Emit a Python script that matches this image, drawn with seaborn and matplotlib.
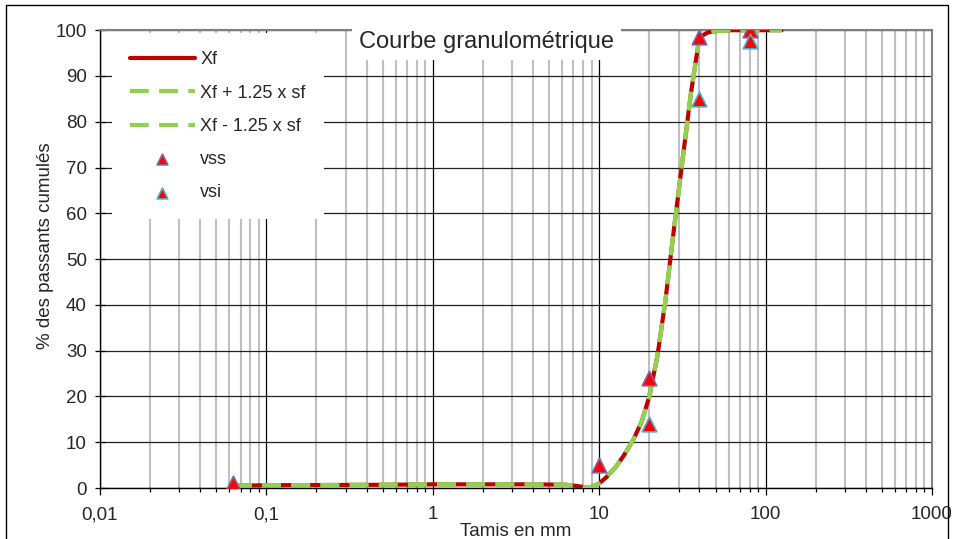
import numpy as np
import pandas as pd
import matplotlib.pyplot as plt
import seaborn as sns
from matplotlib.ticker import FixedLocator, LogLocator, NullFormatter
from matplotlib.patches import Rectangle

# courbe moyenne Xf
tamis = [0.063, 0.1, 0.5, 1, 2, 4, 6.3, 7.5, 8.7, 10, 11, 12.5, 14, 16, 18, 20,
         22.4, 25, 28, 31.5, 35.5, 40, 45, 50, 63, 80, 100, 125]
xf = [0.5, 0.6, 0.7, 0.8, 0.8, 0.8, 0.7, 0.4, 0.0, 1.0, 2.3, 4.5, 7.0, 10.5, 14.5, 20.0,
      29.0, 41.0, 56.0, 71.0, 86.0, 98.5, 99.5, 99.8, 100, 100, 100, 100]
xf_plus = xf
xf_moins = xf

# valeurs spécifiées
vss_x = [0.063, 10, 20, 40, 80]
vss_y = [1, 5, 24, 98.5, 100]
vsi_x = [20, 40, 80]
vsi_y = [14, 85, 97.7]

xticks = [0.01, 0.1, 1, 10, 100, 1000]
xlabels = ['0,01', '0,1', '1', '10', '100', '1000']
yticks = list(range(0, 101, 10))

sns.set_style('white')
plt.rcParams['font.family'] = ['Liberation Sans', 'DejaVu Sans']

fig = plt.figure(figsize=(9.54, 5.39), dpi=100)
ax = fig.add_axes([0.1048, 0.0946, 0.8722, 0.8494])

df = pd.DataFrame({'x': tamis, 'Xf': xf, 'p': xf_plus, 'm': xf_moins})
sns.lineplot(data=df, x='x', y='Xf', ax=ax, color='#C00000', lw=3, label='Xf', zorder=3)
sns.lineplot(data=df, x='x', y='p', ax=ax, color='#92D050', lw=3, dashes=False,
             label='Xf + 1.25 x sf', zorder=4)
sns.lineplot(data=df, x='x', y='m', ax=ax, color='#92D050', lw=3, dashes=False,
             label='Xf - 1.25 x sf', zorder=4)
for ln in ax.get_lines()[1:3]:
    ln.set_dashes((4.5, 2.5))

sns.scatterplot(x=vss_x, y=vss_y, ax=ax, marker='^', s=110, color='red',
                edgecolor='#8064A2', linewidth=1.2, label='vss', zorder=6)
sns.scatterplot(x=vsi_x, y=vsi_y, ax=ax, marker='^', s=110, color='red',
                edgecolor='#4BACC6', linewidth=1.2, label='vsi', zorder=6)

ax.set_xscale('log')
ax.set_xlim(0.01, 1000)
ax.set_ylim(0, 100)
ax.xaxis.set_major_locator(FixedLocator(xticks))
ax.set_xticklabels(xlabels)
ax.xaxis.set_minor_locator(LogLocator(base=10, subs=np.arange(2, 10)))
ax.xaxis.set_minor_formatter(NullFormatter())
ax.set_yticks(yticks)

ax.grid(which='minor', axis='x', color='#BFBFBF', lw=1.5, zorder=0)
ax.grid(which='major', axis='x', color='black', lw=0.9, zorder=0)
ax.grid(which='major', axis='y', color='#202020', lw=0.9, zorder=0)
ax.set_axisbelow(True)

ax.tick_params(axis='x', which='major', direction='out', length=5, width=0.9,
               color='black', labelsize=13.5, pad=8, bottom=True)
ax.tick_params(axis='x', which='minor', direction='out', length=3, width=0.9,
               color='black', bottom=True)
ax.tick_params(axis='y', which='major', direction='inout', length=7, width=0.9,
               color='black', labelsize=13.5, pad=6, left=True)

for s in ['left', 'bottom']:
    ax.spines[s].set_color('black')
    ax.spines[s].set_linewidth(1)
for s in ['top', 'right']:
    ax.spines[s].set_color('#808080')
    ax.spines[s].set_linewidth(1.5)

ax.set_xlabel('Tamis en mm', fontsize=13.5, labelpad=0)
ax.set_ylabel('% des passants cumulés', fontsize=13.5, labelpad=1)
ax.yaxis.label.set_y(0.53)

ax.text(0.465, 0.975, 'Courbe granulométrique', transform=ax.transAxes,
        ha='center', va='center', fontsize=17, zorder=10, clip_on=False,
        bbox=dict(boxstyle='square,pad=0.3', facecolor='white', edgecolor='none'))

leg = ax.legend(loc='upper left', bbox_to_anchor=(0.014, 0.993), borderaxespad=0,
                fontsize=13, frameon=True, facecolor='white', edgecolor='none',
                framealpha=1, fancybox=False, handlelength=3.6, labelspacing=0.9,
                handletextpad=0.3, borderpad=1.0)
leg.set_zorder(8)
for h in leg.legend_handles[3:]:
    h.set_sizes([60])

fig.patches.append(Rectangle((0.006, -0.01), 0.988, 1.0, transform=fig.transFigure,
                             fill=False, edgecolor='black', lw=1))

fig.savefig('out.png', dpi=100)
